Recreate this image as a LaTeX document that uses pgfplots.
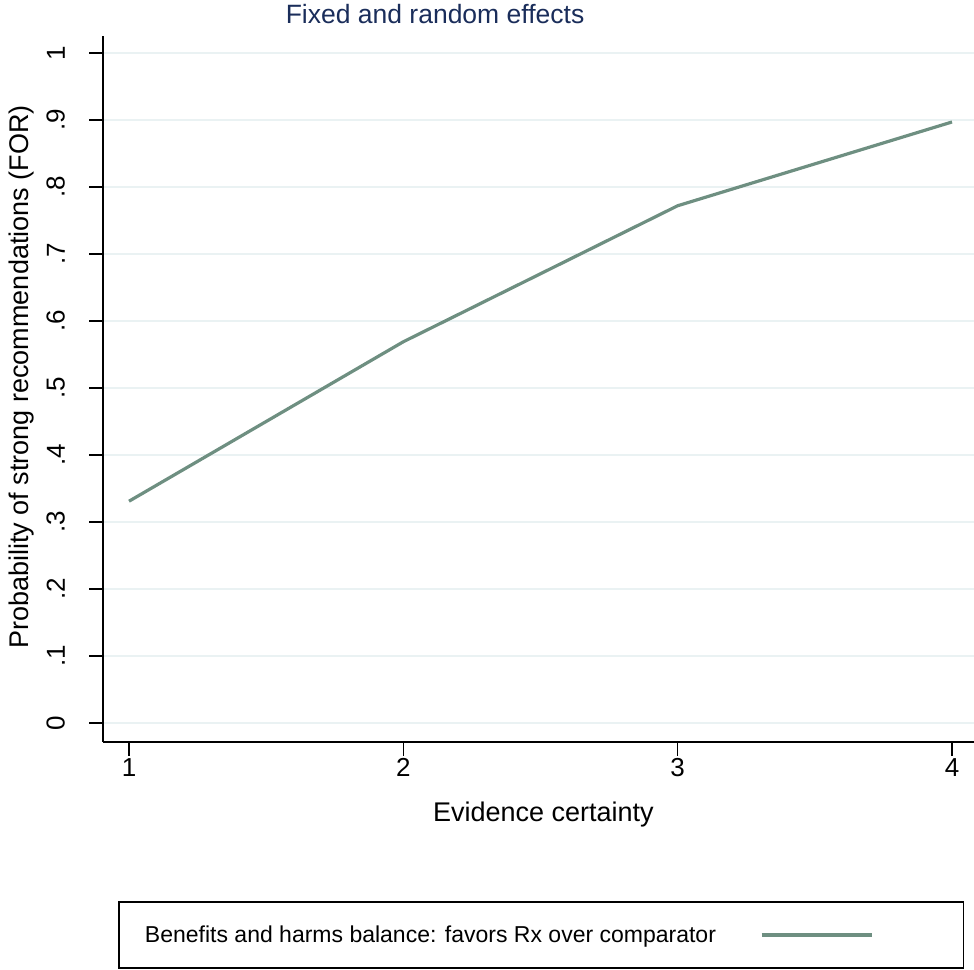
\documentclass[border=0pt]{standalone}
\usepackage{fontspec}
\setmainfont{Liberation Sans}
\usepackage{pgfplots}
\pgfplotsset{compat=1.18}
\definecolor{gridc}{RGB}{234,242,243}
\definecolor{linec}{RGB}{110,143,129}
\definecolor{titlec}{RGB}{26,45,90}
\begin{document}
\begin{tikzpicture}[x=1bp,y=1bp]
\useasboundingbox (0,0) rectangle (974,970);
\begin{axis}[
  at={(103bp,228bp)}, anchor=south west,
  scale only axis, width=871bp, height=706bp,
  xmin=0.9052, xmax=4.0802, ymin=-0.02836, ymax=1.02537,
  axis x line*=bottom, axis y line*=left,
  axis line style={line width=1.6bp, black},
  xtick={1,2,3,4}, xticklabels={1,2,3,4},
  ytick={0,0.1,0.2,0.3,0.4,0.5,0.6,0.7,0.8,0.9,1},
  yticklabels={0,.1,.2,.3,.4,.5,.6,.7,.8,.9,1},
  tick align=outside, xtick pos=bottom, ytick pos=left,
  major tick length=14bp,
  tick style={line width=1.6bp, black},
  /pgf/number format/assume math mode=true,
  ticklabel style={font=\fontsize{26bp}{30bp}\selectfont},
  yticklabel style={rotate=90, anchor=south, inner sep=0pt, yshift=24bp},
  xticklabel style={anchor=north, inner sep=0pt, yshift=-2bp},
  ymajorgrids, grid style={color=gridc, line width=2.6bp},
  xlabel={Evidence certainty},
  xlabel style={at={(axis description cs:0.5057,-0.1133)}, anchor=base, inner sep=0pt, font=\fontsize{27bp}{32bp}\selectfont},
  ylabel={Probability of strong recommendations (FOR)},
  ylabel style={at={(axis description cs:-0.0861,0.517)}, rotate=0, anchor=base, inner sep=0pt, font=\fontsize{27bp}{32bp}\selectfont},
  title={Fixed and random effects},
  every axis title shift=0pt,
  title style={at={(axis description cs:0.3812,1.0170)}, anchor=base, inner sep=0pt, text=titlec, font=\fontsize{26.5bp}{31bp}\selectfont},
  legend plot pos=right,
  legend style={at={(axis description cs:0.01837,-0.22663)}, anchor=north west,
    draw=black, line width=1.6bp, inner sep=0pt, outer sep=0pt,
    column sep=0pt, row sep=0pt, font=\fontsize{23bp}{27bp}\selectfont,
    nodes={inner sep=0pt}},
  legend image code/.code={\path[draw=none,fill=none] (0bp,-33bp) rectangle (202bp,33bp); \draw[#1, line width=3.2bp] (0bp,0bp) -- (110bp,0bp);},
  clip=false,
]
\addplot[color=linec, line width=3.2bp] coordinates {(1,0.331) (2,0.569) (3,0.772) (4,0.897)};
\addlegendentry{\makebox[641bp][l]{\hspace{26bp}Benefits and harms balance: favors Rx over comparator}}
\end{axis}
\end{tikzpicture}
\end{document}
